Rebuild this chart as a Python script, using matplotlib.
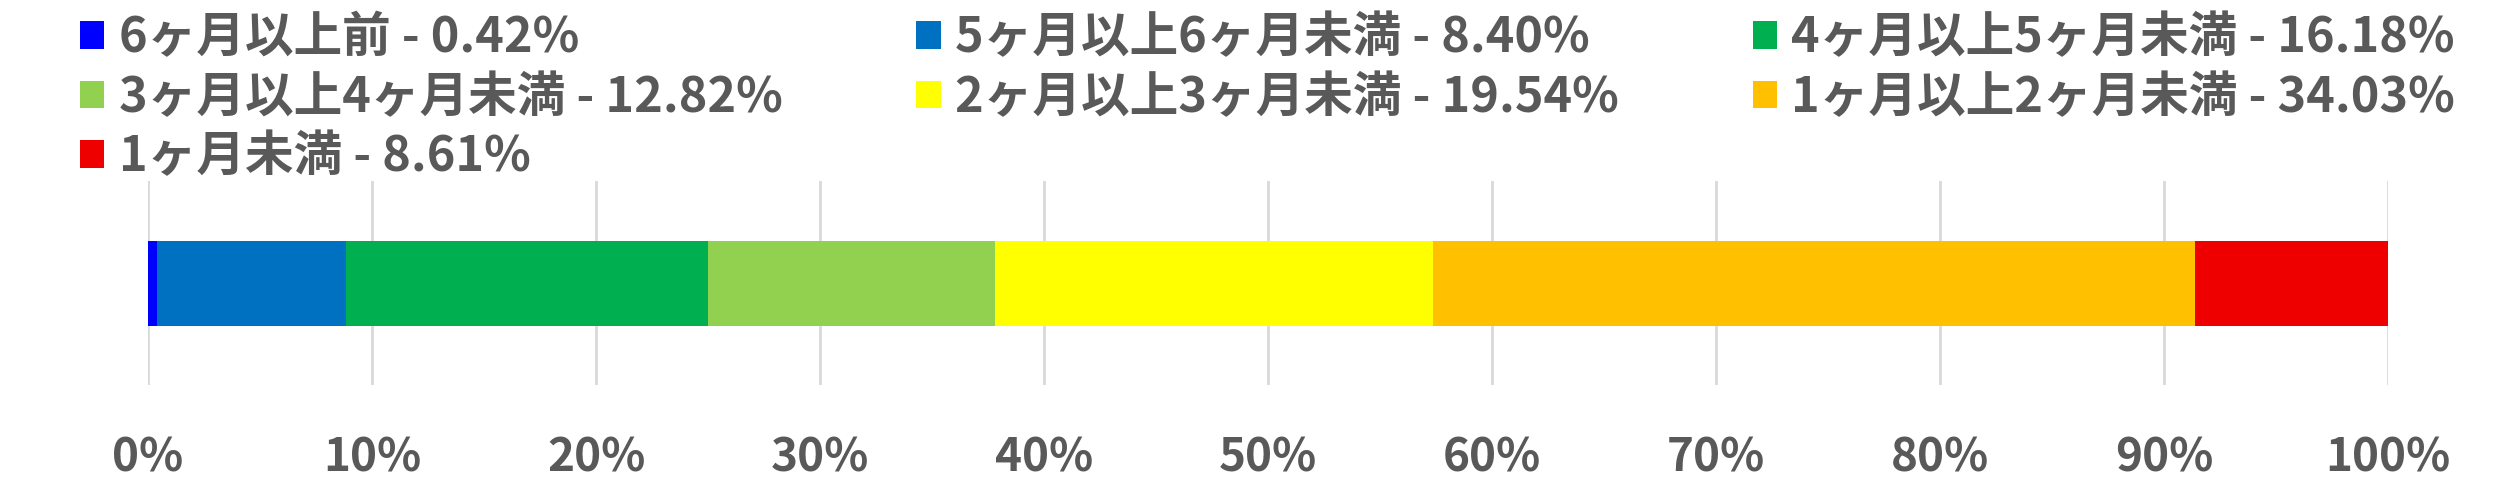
import matplotlib.pyplot as plt
from matplotlib.patches import Patch

# データ
kubun = ['6ヶ月以上前', '5ヶ月以上6ヶ月未満', '4ヶ月以上5ヶ月未満', '3ヶ月以上4ヶ月未満',
         '2ヶ月以上3ヶ月未満', '1ヶ月以上2ヶ月未満', '1ヶ月未満']
wariai = [0.42, 8.40, 16.18, 12.82, 19.54, 34.03, 8.61]
iro = ['#0000FF', '#0070C0', '#00B050', '#92D050', '#FFFF00', '#FFC000', '#EE0000']
ticks = [0, 10, 20, 30, 40, 50, 60, 70, 80, 90, 100]
tick_labels = [str(v) + '%' for v in ticks]

plt.rcParams['font.family'] = ['Noto Sans CJK JP', 'DejaVu Sans']
gray = '#595959'

fig = plt.figure(figsize=(25.18, 4.94), dpi=100)
ax = fig.add_axes([0.0588, 0.2206, 0.8896, 0.413])

left = 0
for k, w, c in zip(kubun, wariai, iro):
  ax.barh(0, w, left=left, height=0.5, color=c, zorder=3)
  left += w

ax.set_xlim(0, 100)
ax.set_ylim(-0.6, 0.6)
ax.set_xticks(ticks)
ax.set_xticklabels(tick_labels, fontsize=33, fontweight='bold', color=gray)
ax.tick_params(axis='x', length=0, pad=36)
ax.set_yticks([])
ax.grid(True, axis='x', color='#D9D9D9', linewidth=2, zorder=0)
for s in ax.spines.values():
  s.set_visible(False)

# 凡例 (行優先に並べ替え)
labels = [k + ' - ' + format(w, '.2f') + '%' for k, w in zip(kubun, wariai)]
handles = [Patch(facecolor=c, edgecolor='none') for c in iro]
order = [0, 3, 6, 1, 4, 2, 5]
fig.legend([handles[i] for i in order], [labels[i] for i in order],
           loc='upper left', bbox_to_anchor=(0.024, 1.013), ncol=3, frameon=False,
           prop={'size': 35, 'weight': 'bold'}, labelcolor=gray,
           handlelength=0.5, handleheight=0.5, handletextpad=0.3,
           columnspacing=2.75, labelspacing=0.22, borderaxespad=0)

fig.savefig('out.png', dpi=100)
